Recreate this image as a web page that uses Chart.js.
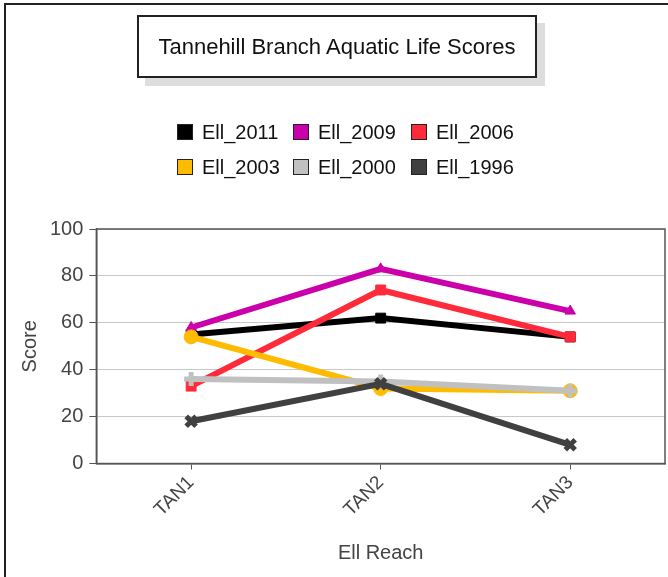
<!DOCTYPE html>
<html>
<head>
<meta charset="utf-8">
<script src="https://cdn.jsdelivr.net/npm/chart.js@4/dist/chart.umd.min.js"></script>
<style>
  body { margin: 0; background: #fff; font-family: "Liberation Sans", Arial, sans-serif; }
  #page { position: relative; width: 668px; height: 577px; overflow: hidden; }
  #frame { position: absolute; left: 4px; top: 3px; width: 700px; height: 600px;
           border-left: 2px solid #222; border-top: 2px solid #222; }
  #title { position: absolute; left: 137px; top: 15px; width: 396px; height: 59px;
           border: 2px solid #222; background: #fff; box-shadow: 8px 8px 0 #ddd;
           font-size: 22px; color: #111; text-align: center; line-height: 60px; }
  #legend { position: absolute; left: 177px; top: 121px; width: 360px; }
  .item { position: absolute; font-size: 20px; color: #111; white-space: nowrap; line-height: 22px; }
  .item span.box { display: inline-block; width: 14px; height: 14px; border: 1px solid #222;
                   vertical-align: -1px; margin-right: 9px; }
  canvas { position: absolute; left: 0; top: 0; }
</style>
</head>
<body>
<div id="page">
  <div id="frame"></div>
  <!-- el lienzo es un poco mas ancho: la escala x reserva margen a la derecha -->
  <canvas id="chart" width="677" height="577"></canvas>
  <div id="title">Tannehill Branch Aquatic Life Scores</div>
  <div id="legend"></div>
</div>
<script>
// Datos
const reaches = ['TAN1', 'TAN2', 'TAN3'];
const seriesNames = ['Ell_2011', 'Ell_2009', 'Ell_2006', 'Ell_2003', 'Ell_2000', 'Ell_1996'];
const ell2011 = [55, 62, 54];
const ell2009 = [58, 83, 65];
const ell2006 = [33, 74, 54];
const ell2003 = [54, 32, 31];
const ell2000 = [36, 35, 31];
const ell1996 = [18, 34, 8];
const yTicks = [0, 20, 40, 60, 80, 100];

const colors = ['#000000', '#cc00aa', '#ff2a3a', '#ffbb00', '#c0c0c0', '#404040'];
const markers = ['rect', 'triangle', 'rect', 'circle', 'cross', 'crossRot'];
const values = [ell2011, ell2009, ell2006, ell2003, ell2000, ell1996];

// Leyenda HTML (3 por fila)
const legendPos = [[0, 0], [116, 0], [234, 0], [0, 35], [116, 35], [234, 35]];
document.getElementById('legend').innerHTML = seriesNames.map((name, i) => `
  <div class="item" style="left:${legendPos[i][0]}px;top:${legendPos[i][1]}px">
    <span class="box" style="background:${colors[i]}"></span>${name}
  </div>`).join('');

// Borde del area de trazado
const plotBorder = {
  id: 'plotBorder',
  afterDraw(chart) {
    const a = chart.chartArea;
    const ctx = chart.ctx;
    ctx.save();
    ctx.strokeStyle = '#555';
    ctx.lineWidth = 1.5;
    ctx.strokeRect(a.left, a.top, a.right - a.left, a.bottom - a.top);
    ctx.restore();
  }
};

const font = (size) => ({ family: 'Liberation Sans', size: size });

new Chart(document.getElementById('chart'), {
  type: 'line',
  data: {
    labels: reaches,
    datasets: seriesNames.map((name, i) => ({
      label: name,
      data: values[i],
      borderColor: colors[i],
      backgroundColor: colors[i],
      borderWidth: 6,
      pointStyle: markers[i],
      pointRadius: markers[i] === 'triangle' ? 6 : 7,
      pointBorderWidth: markers[i].startsWith('cross') ? 5 : 1,
      pointBorderColor: colors[i],
      tension: 0,
      order: 6 - i
    }))
  },
  options: {
    responsive: false,
    animation: false,
    layout: { padding: { top: 229, left: 18, right: 0, bottom: 12 } },
    plugins: {
      legend: { display: false },
      title: { display: false },
      tooltip: { enabled: false }
    },
    scales: {
      x: {
        offset: true,
        grid: { display: true, drawOnChartArea: false, tickLength: 6, color: '#555', offset: false },
        border: { color: '#555', width: 1.5 },
        ticks: { color: '#444', font: font(19), maxRotation: 45, minRotation: 45, padding: 2 },
        title: { display: true, text: 'Ell Reach', color: '#444', font: font(20), padding: { top: 18, bottom: 0 } }
      },
      y: {
        min: 0,
        max: 100,
        afterBuildTicks(scale) { scale.ticks = yTicks.map(v => ({ value: v })); },
        grid: { color: '#c8c8c8', tickLength: 7, tickColor: '#555' },
        border: { color: '#555', width: 1.5 },
        ticks: { color: '#444', font: font(20), padding: 6 },
        title: { display: true, text: 'Score', color: '#444', font: font(20), padding: { top: 0, bottom: 2 } }
      }
    }
  },
  plugins: [plotBorder]
});
</script>
</body>
</html>
